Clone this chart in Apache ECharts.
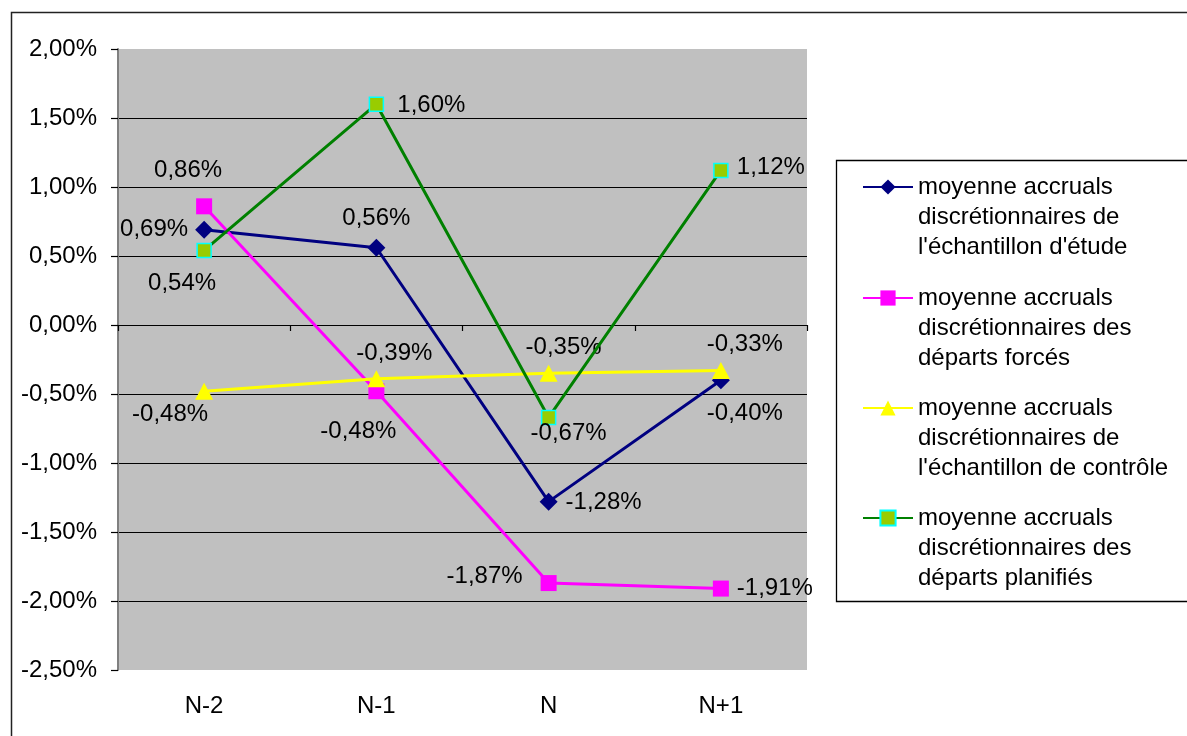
<!DOCTYPE html>
<html>
<head>
<meta charset="utf-8">
<script src="https://cdn.jsdelivr.net/npm/echarts@6/dist/echarts.min.js"></script>
<style>
html,body{margin:0;padding:0;background:#fff;}
#chart{width:1187px;height:736px;}
</style>
</head>
<body>
<div id="chart"></div>
<script>
// ---- data ----
const categories = ['N-2', 'N-1', 'N', 'N+1'];
const etude = [0.69, 0.56, -1.28, -0.40];
const forces = [0.86, -0.48, -1.87, -1.91];
const controle = [-0.48, -0.39, -0.35, -0.33];
const planifies = [0.54, 1.60, -0.67, 1.12];
const seriesNames = [
  "moyenne accruals\ndiscrétionnaires de\nl'échantillon d'étude",
  "moyenne accruals\ndiscrétionnaires des\ndéparts forcés",
  "moyenne accruals\ndiscrétionnaires de\nl'échantillon de contrôle",
  "moyenne accruals\ndiscrétionnaires des\ndéparts planifiés"
];
const yMin = -2.5, yMax = 2.0, yStep = 0.5;

// ---- style / layout ----
const FONT = '"Liberation Sans", Arial, sans-serif';
const fmt = v => v.toFixed(2).replace('.', ',') + '%';
const labelOffsets = [
  [[-50, 0], [0, -29], [55, 1], [24, 33]],
  [[-16, -36], [-18, 40], [-64, -7], [54, 0]],
  [[-34, 23], [18, -25], [15, -26], [24, -26]],
  [[-22, 33], [55, 1], [20, 16], [50, -3]]
];
const seriesStyles = [
  {color: '#000080', symbol: 'diamond', symbolSize: 18, itemStyle: {color: '#000080'}},
  {color: '#FF00FF', symbol: 'rect', symbolSize: 16, itemStyle: {color: '#FF00FF'}},
  {color: '#FFFF00', symbol: 'triangle', symbolSize: [18, 17], itemStyle: {color: '#FFFF00'}},
  {color: '#008000', symbol: 'rect', symbolSize: 14, itemStyle: {color: '#99CC00', borderColor: '#00FFFF', borderWidth: 1.5}}
];
const allData = [etude, forces, controle, planifies];

const series = allData.map((vals, si) => ({
  name: seriesNames[si],
  type: 'line',
  xAxisIndex: 0,
  symbol: seriesStyles[si].symbol,
  symbolSize: seriesStyles[si].symbolSize,
  lineStyle: {color: seriesStyles[si].color, width: 3},
  itemStyle: seriesStyles[si].itemStyle,
  z: 2 + si,
  data: vals.map((v, i) => ({
    value: v,
    label: {
      show: true,
      position: 'inside',
      offset: labelOffsets[si][i],
      formatter: p => fmt(p.value),
      color: '#000',
      fontSize: 24,
      fontFamily: FONT
    }
  }))
}));

const legendIconCenters = [187, 298, 408, 518];
const legends = seriesNames.map((n, i) => ({
  data: [n],
  left: 862,
  top: legendIconCenters[i] - 75,
  orient: 'vertical',
  itemWidth: 50,
  itemHeight: 19,
  padding: 0,
  selectedMode: false,
  formatter: name => '\n\n' + name,
  textStyle: {fontSize: 24, fontFamily: FONT, color: '#000', lineHeight: 30}
}));

const splitColors = [];
for (let v = yMin, k = 0; v <= yMax + 1e-9; v += yStep, k++) {
  splitColors.push((k === 0 || Math.abs(v - yMax) < 1e-9) ? 'rgba(0,0,0,0)' : '#000');
}

const chart = echarts.init(document.getElementById('chart'));
chart.setOption({
  animation: false,
  backgroundColor: '#fff',
  textStyle: {fontFamily: FONT},
  grid: {left: 118, right: 380, top: 49, bottom: 66, show: true, backgroundColor: '#C0C0C0', borderWidth: 0},
  legend: legends,
  graphic: [
    {type: 'rect', shape: {x: 11.5, y: 12.5, width: 1300, height: 900}, style: {fill: 'none', stroke: '#222', lineWidth: 1.5}, z: -1},
    {type: 'rect', shape: {x: 836.5, y: 160.5, width: 400, height: 441}, style: {fill: '#fff', stroke: '#000', lineWidth: 1.3}, z: -1}
  ],
  xAxis: [
    {
      type: 'category', data: categories, position: 'bottom', boundaryGap: true,
      axisLine: {onZero: true, lineStyle: {color: '#000', width: 1.2}},
      axisTick: {show: true, length: 6, lineStyle: {color: '#000', width: 1.2}},
      axisLabel: {show: false}, splitLine: {show: false}
    },
    {
      type: 'category', data: categories, position: 'bottom', boundaryGap: true,
      axisLine: {show: false, onZero: false}, axisTick: {show: false},
      axisLabel: {show: true, margin: 24, fontSize: 24, color: '#000', fontFamily: FONT},
      splitLine: {show: false}
    }
  ],
  yAxis: {
    type: 'value', min: yMin, max: yMax, interval: yStep,
    axisLine: {show: true, lineStyle: {color: '#808080', width: 2}},
    axisTick: {show: true, length: 7, lineStyle: {color: '#000', width: 1.2}},
    axisLabel: {margin: 21, fontSize: 24, color: '#000', fontFamily: FONT, formatter: v => fmt(v)},
    splitLine: {show: true, lineStyle: {color: splitColors, width: 1.2}}
  },
  series: series
});
</script>
</body>
</html>
